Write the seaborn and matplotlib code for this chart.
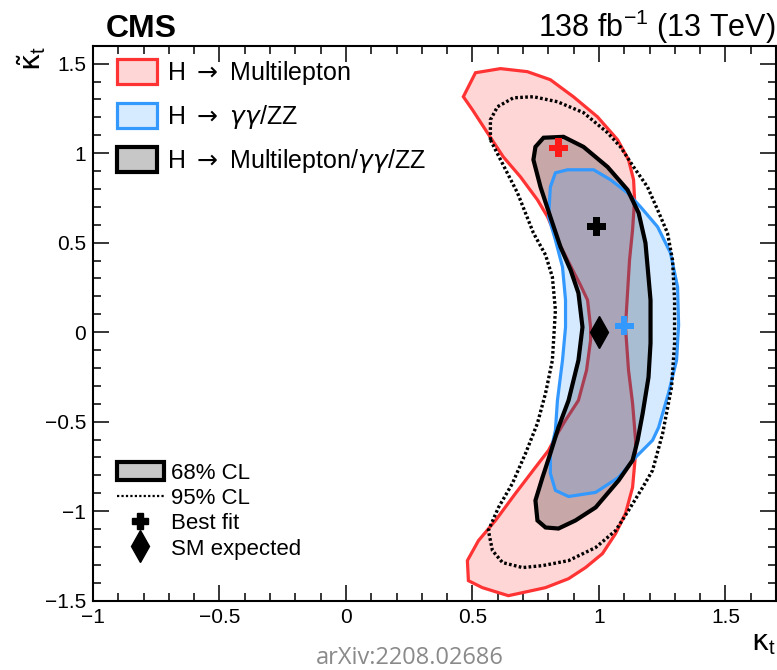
import numpy as np
import pandas as pd
import matplotlib
matplotlib.use("Agg")
import matplotlib.pyplot as plt
from matplotlib.patches import Patch
from matplotlib.lines import Line2D
from matplotlib.ticker import MultipleLocator
import seaborn as sns

# 68% CL contour, H -> multilepton (kappa_t, kappa_t tilde)
ml_x = [0.464, 0.512, 0.611, 0.717, 0.808, 0.899, 0.994, 1.074, 1.117, 1.137, 1.141, 1.133,
        1.121, 1.113, 1.105, 1.117, 1.133, 1.145, 1.145, 1.133, 1.105, 1.066, 1.014, 0.947,
        0.880, 0.789, 0.698, 0.642, 0.539, 0.484, 0.480, 0.524, 0.591, 0.670, 0.749, 0.801,
        0.832, 0.868, 0.919, 0.951, 0.967, 0.967, 0.955, 0.927, 0.896, 0.836, 0.797, 0.757,
        0.690, 0.622, 0.559, 0.500]
ml_y = [1.315, 1.449, 1.472, 1.455, 1.410, 1.315, 1.203, 1.074, 0.963, 0.851, 0.739, 0.571,
        0.403, 0.218, 0.028, -0.213, -0.397, -0.604, -0.677, -0.867, -1.013, -1.125, -1.237, -1.315,
        -1.377, -1.427, -1.455, -1.472, -1.427, -1.388, -1.276, -1.164, -1.052, -0.901, -0.755, -0.660,
        -0.576, -0.492, -0.381, -0.213, -0.045, 0.028, 0.179, 0.263, 0.347, 0.515, 0.644, 0.739,
        0.867, 0.979, 1.114, 1.242]

# 68% CL contour, H -> gamma gamma / ZZ
gz_x = [0.828, 0.876, 0.979, 1.046, 1.113, 1.165, 1.232, 1.283, 1.311, 1.315, 1.307, 1.275,
        1.236, 1.212, 1.145, 1.078, 0.987, 0.880, 0.828, 0.808, 0.808, 0.828, 0.836, 0.856,
        0.868, 0.868, 0.856, 0.828, 0.801, 0.808]
gz_y = [0.890, 0.907, 0.907, 0.851, 0.778, 0.699, 0.588, 0.442, 0.252, 0.039, -0.157, -0.341,
        -0.532, -0.604, -0.699, -0.811, -0.895, -0.918, -0.884, -0.789, -0.677, -0.548, -0.381, -0.157,
        0.028, 0.179, 0.364, 0.515, 0.644, 0.811]

# combined, 68% CL
cb68_x = [0.749, 0.781, 0.860, 0.939, 1.034, 1.113, 1.157, 1.184, 1.196, 1.204, 1.204, 1.196,
          1.173, 1.153, 1.133, 1.078, 0.987, 0.907, 0.840, 0.789, 0.757, 0.749, 0.777, 0.808,
          0.840, 0.880, 0.919, 0.935, 0.919, 0.888, 0.848, 0.808, 0.769, 0.741]
cb68_y = [1.035, 1.086, 1.091, 1.035, 0.923, 0.795, 0.666, 0.498, 0.308, 0.179, -0.062, -0.252,
          -0.453, -0.604, -0.716, -0.828, -0.979, -1.052, -1.097, -1.091, -1.052, -0.940, -0.811, -0.677,
          -0.532, -0.381, -0.157, 0.028, 0.218, 0.347, 0.476, 0.644, 0.811, 0.963]

# combined, 95% CL
cb95_x = [0.571, 0.571, 0.599, 0.662, 0.741, 0.836, 0.939, 1.034, 1.085, 1.137, 1.192, 1.232,
          1.271, 1.291, 1.299, 1.299, 1.287, 1.252, 1.212, 1.173, 1.117, 1.066, 0.987, 0.880,
          0.777, 0.698, 0.619, 0.579, 0.563, 0.603, 0.658, 0.710, 0.757, 0.789, 0.816, 0.828,
          0.816, 0.789, 0.741, 0.678, 0.611]
cb95_y = [1.074, 1.186, 1.259, 1.309, 1.315, 1.287, 1.226, 1.114, 1.035, 0.923, 0.811, 0.683,
          0.554, 0.403, 0.179, -0.062, -0.308, -0.565, -0.772, -0.867, -0.996, -1.108, -1.203, -1.276,
          -1.304, -1.315, -1.287, -1.220, -1.108, -0.979, -0.845, -0.677, -0.509, -0.341, -0.157, 0.123,
          0.308, 0.431, 0.554, 0.778, 0.963]

# best fit points and SM expectation
fits = pd.DataFrame({
    "kt": [0.84, 0.99, 1.10],
    "kt_tilde": [1.03, 0.59, 0.035],
    "fit": ["Multilepton", "Combined", "gammagamma/ZZ"],
})
sm_x = [1.0]
sm_y = [0.0]

RED = "#ff3333"
BLUE = "#3399ff"

sns.set_style("ticks")
plt.rcParams["font.family"] = ["Liberation Sans", "DejaVu Sans"]
plt.rcParams["mathtext.fontset"] = "dejavusans"
plt.rcParams["text.color"] = "black"
plt.rcParams["axes.labelcolor"] = "black"
plt.rcParams["xtick.color"] = "black"
plt.rcParams["ytick.color"] = "black"

fig = plt.figure(figsize=(7.77, 6.70), dpi=100)
ax = fig.add_axes([93 / 777, 1 - 600.7 / 670, 683 / 777, 555 / 670])

# contours, drawn in the same order as the original so the overlaps mix the same way
ax.fill(ml_x, ml_y, facecolor=RED, alpha=0.2, edgecolor="none", zorder=2)
ax.fill(ml_x, ml_y, facecolor="none", edgecolor=RED, lw=2.3, zorder=2.1)
ax.fill(cb68_x, cb68_y, facecolor="black", alpha=0.22, edgecolor="none", zorder=3)
ax.fill(gz_x, gz_y, facecolor=BLUE, alpha=0.2, edgecolor="none", zorder=4)
ax.fill(gz_x, gz_y, facecolor="none", edgecolor=BLUE, lw=2.3, zorder=4.1)
ax.fill(cb68_x, cb68_y, facecolor="none", edgecolor="black", lw=3.0, zorder=5)
ax.fill(cb95_x, cb95_y, facecolor="none", edgecolor="black", lw=2.4,
        linestyle=(0, (0.8, 0.7)), zorder=5)

sns.scatterplot(data=fits, x="kt", y="kt_tilde", hue="fit",
                palette={"Multilepton": "#ff1a1a", "Combined": "black", "gammagamma/ZZ": BLUE},
                marker="P", s=190, linewidth=0, legend=False, ax=ax, zorder=6)
ax.plot(sm_x, sm_y, marker="d", ms=16, color="black", ls="none", zorder=6)

ax.set_xlim(-1, 1.7)
ax.set_ylim(-1.5, 1.6)
ax.xaxis.set_minor_locator(MultipleLocator(0.1))
ax.yaxis.set_minor_locator(MultipleLocator(0.1))
ax.set_xticks([-1, -0.5, 0, 0.5, 1, 1.5])
ax.set_xticklabels(["\u22121", "\u22120.5", "0", "0.5", "1", "1.5"])
ax.set_yticks([-1.5, -1, -0.5, 0, 0.5, 1, 1.5])
ax.set_yticklabels(["\u22121.5", "\u22121", "\u22120.5", "0", "0.5", "1", "1.5"])
ax.tick_params(which="both", direction="in", top=True, right=True, width=1.1,
               labelsize=15, color="black", labelcolor="black")
ax.tick_params(which="major", length=11.5, pad=5)
ax.tick_params(which="minor", length=6)
for s in ax.spines.values():
    s.set_linewidth(1.5)
    s.set_color("black")

ax.set_xlabel(r"$\mathrm{\kappa}_{\mathregular{t}}$", fontsize=21, loc="right", labelpad=2)
ax.set_ylabel(r"$\tilde{\mathrm{\kappa}}_{\mathregular{t}}$", fontsize=21, loc="top")
ax.yaxis.set_label_coords(-0.066, 1.0)

fig.text(106 / 777, 1 - 37 / 670, "CMS", fontsize=23, fontweight="bold", ha="left", va="baseline")
fig.text(776 / 777, 1 - 37 / 670, r"138 fb$^{\mathregular{-1}}$ (13 TeV)", fontsize=22,
         ha="right", va="baseline")
fig.text(410 / 777, 1 - 664 / 670, "arXiv:2208.02686", fontsize=17, color="#8a8a8a",
         family="Open Sans", ha="center", va="baseline")

labels1 = [r"H $\rightarrow$ Multilepton",
           r"H $\rightarrow$ $\gamma\gamma$/ZZ",
           r"H $\rightarrow$ Multilepton/$\gamma\gamma$/ZZ"]
h1 = [
    Patch(facecolor="#ffd6d6", edgecolor=RED, lw=2.3),
    Patch(facecolor="#d6ebff", edgecolor=BLUE, lw=2.3),
    Patch(facecolor="#c7c7c7", edgecolor="black", lw=3.0),
]
leg1 = ax.legend(h1, labels1,
                 loc="upper left", bbox_to_anchor=(0.035, 0.976), frameon=False,
                 prop={"size": 18}, handlelength=1.6, handleheight=1.15,
                 handletextpad=0.4, labelspacing=0.64, borderpad=0, borderaxespad=0)
ax.add_artist(leg1)

h2 = [
    Patch(facecolor="#c7c7c7", edgecolor="black", lw=3.0),
    Line2D([], [], color="black", lw=1.6, ls=(0, (1, 1))),
    Line2D([], [], color="black", marker="P", ms=12, ls="none"),
    Line2D([], [], color="black", marker="d", ms=16, ls="none"),
]
ax.legend(h2, ["68% CL", "95% CL", "Best fit", "SM expected"],
          loc="upper left", bbox_to_anchor=(0.035, 0.25), frameon=False,
          prop={"size": 16}, handlelength=2.1, handleheight=0.9,
          handletextpad=0.35, labelspacing=0.15, borderpad=0, borderaxespad=0)

fig.savefig("out.png", dpi=100)
